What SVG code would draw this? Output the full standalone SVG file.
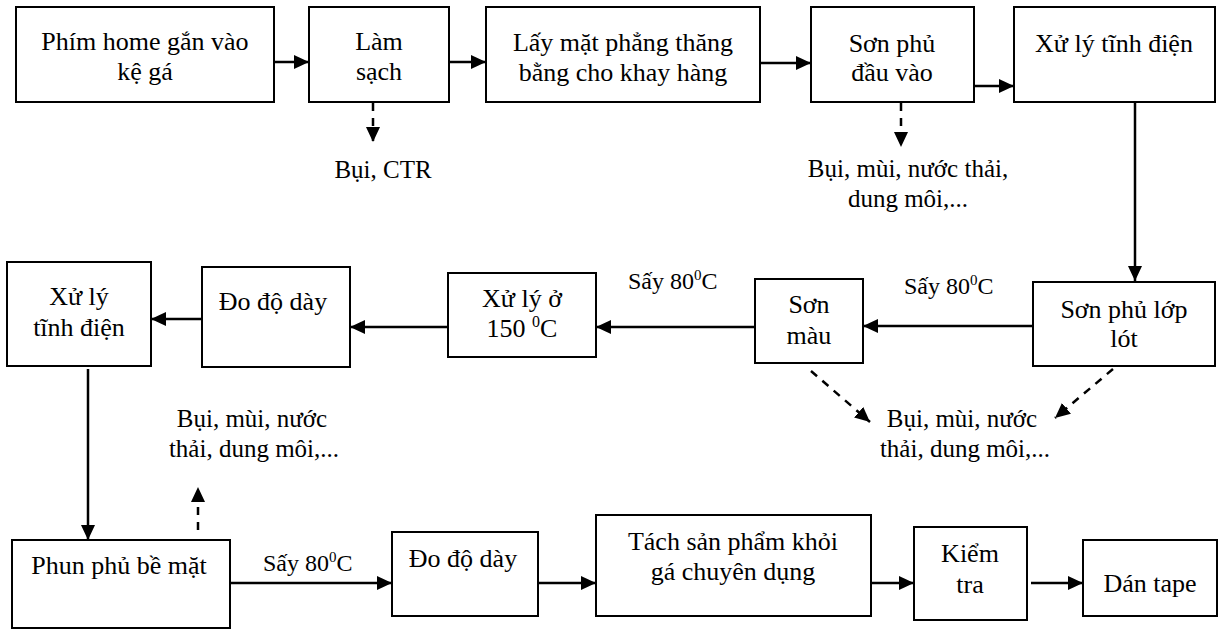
<svg xmlns="http://www.w3.org/2000/svg" width="1221" height="630" viewBox="0 0 1221 630">
<style>
.box{fill:#fff;stroke:#000;stroke-width:2}
.t{font-family:"Liberation Serif","Times New Roman",serif;font-size:26px;fill:#000;text-anchor:middle}
.l{font-family:"Liberation Serif","Times New Roman",serif;font-size:24px;fill:#000}
.e{font-family:"Liberation Serif","Times New Roman",serif;font-size:25px;fill:#000;text-anchor:middle}
.c{fill:none;stroke:#000;stroke-width:2.5;marker-end:url(#ah)}
.d{fill:none;stroke:#000;stroke-width:2.5;stroke-dasharray:8 7;marker-end:url(#ah)}
</style>
<defs>
<marker id="ah" markerUnits="userSpaceOnUse" markerWidth="16" markerHeight="14" refX="15" refY="7" orient="auto">
<path d="M0,0 L15,7 L0,14 z" fill="#000"/>
</marker>
</defs>
<rect width="1221" height="630" fill="#fff"/>
<g id="connectors">
<line class="c" x1="274" y1="62" x2="309" y2="62"/>
<line class="c" x1="449" y1="62" x2="486" y2="62"/>
<line class="c" x1="760" y1="63" x2="811" y2="63"/>
<line class="c" x1="974" y1="86" x2="1014" y2="86"/>
<line class="c" x1="1135" y1="102" x2="1135" y2="281"/>
<line class="c" x1="1033" y1="326" x2="863" y2="326"/>
<line class="c" x1="755" y1="327" x2="596" y2="327"/>
<line class="c" x1="448" y1="327" x2="350" y2="327"/>
<line class="c" x1="202" y1="319" x2="151" y2="319"/>
<line class="c" x1="88" y1="369" x2="88" y2="540"/>
<line class="c" x1="230" y1="583" x2="392" y2="583"/>
<line class="c" x1="538" y1="583" x2="596" y2="583"/>
<line class="c" x1="871" y1="583" x2="914" y2="583"/>
<line class="c" x1="1031" y1="583" x2="1083" y2="583"/>
<line class="d" x1="373" y1="103" x2="373" y2="142"/>
<line class="d" x1="901" y1="103" x2="901" y2="147"/>
<line class="d" x1="811" y1="371" x2="870" y2="422"/>
<line class="d" x1="1113" y1="369" x2="1055" y2="418"/>
<line class="d" x1="198" y1="530" x2="198" y2="487"/>
</g>
<g id="n1"><rect class="box" x="16" y="7" width="258" height="95"/><text class="t" x="145" y="50">Phím home gắn vào</text><text class="t" x="145" y="80">kệ gá</text></g>
<g id="n2"><rect class="box" x="309" y="7" width="140" height="95"/><text class="t" x="379" y="50">Làm</text><text class="t" x="379" y="80">sạch</text></g>
<g id="n3"><rect class="box" x="486" y="7" width="274" height="95"/><text class="t" x="623" y="51">Lấy mặt phẳng thăng</text><text class="t" x="623" y="81">bằng cho khay hàng</text></g>
<g id="n4"><rect class="box" x="811" y="7" width="163" height="95"/><text class="t" x="892" y="52">Sơn phủ</text><text class="t" x="892" y="81">đầu vào</text></g>
<g id="n5"><rect class="box" x="1014" y="7" width="201" height="95"/><text class="t" x="1114" y="52">Xử lý tĩnh điện</text></g>
<g id="e1"><text class="e" x="383" y="178" font-size="26">Bụi, CTR</text></g>
<g id="e2"><text class="e" x="908" y="177">Bụi, mùi, nước thải,</text><text class="e" x="908" y="207">dung môi,...</text></g>
<g id="n6"><rect class="box" x="1033" y="282" width="182" height="84"/><text class="t" x="1124" y="318">Sơn phủ lớp</text><text class="t" x="1124" y="347">lót</text></g>
<g id="n7"><rect class="box" x="755" y="279" width="108" height="84"/><text class="t" x="809" y="313">Sơn</text><text class="t" x="809" y="344">màu</text></g>
<g id="n8"><rect class="box" x="448" y="273" width="148" height="84"/><text class="t" x="522" y="307">Xử lý ở</text><text class="t" x="522" y="337">150 <tspan font-size="16" dy="-10">0</tspan><tspan dy="10">C</tspan></text></g>
<g id="n9"><rect class="box" x="202" y="267" width="148" height="100"/><text class="t" x="273" y="310">Đo độ dày</text></g>
<g id="n10"><rect class="box" x="7" y="262" width="144" height="104"/><text class="t" x="79" y="305">Xử lý</text><text class="t" x="79" y="336">tĩnh điện</text></g>
<g id="l1"><text class="l" x="628" y="289">Sấy 80<tspan font-size="15" dy="-9">0</tspan><tspan dy="9">C</tspan></text></g>
<g id="l2"><text class="l" x="904" y="294">Sấy 80<tspan font-size="15" dy="-9">0</tspan><tspan dy="9">C</tspan></text></g>
<g id="e3"><text class="e" x="962" y="427">Bụi, mùi, nước</text><text class="e" x="965" y="457">thải, dung môi,...</text></g>
<g id="e4"><text class="e" x="252" y="427">Bụi, mùi, nước</text><text class="e" x="254" y="457">thải, dung môi,...</text></g>
<g id="n11"><rect class="box" x="12" y="540" width="218" height="88"/><text class="t" x="119" y="574">Phun phủ bề mặt</text></g>
<g id="l3"><text class="l" x="263" y="571">Sấy 80<tspan font-size="15" dy="-9">0</tspan><tspan dy="9">C</tspan></text></g>
<g id="n12"><rect class="box" x="392" y="532" width="146" height="84"/><text class="t" x="463" y="567">Đo độ dày</text></g>
<g id="n13"><rect class="box" x="596" y="515" width="275" height="101"/><text class="t" x="733" y="550">Tách sản phẩm khỏi</text><text class="t" x="733" y="580">gá chuyên dụng</text></g>
<g id="n14"><rect class="box" x="914" y="527" width="113" height="93"/><text class="t" x="970" y="562">Kiểm</text><text class="t" x="970" y="593">tra</text></g>
<g id="n15"><rect class="box" x="1083" y="540" width="134" height="76"/><text class="t" x="1150" y="592">Dán tape</text></g>
</svg>
